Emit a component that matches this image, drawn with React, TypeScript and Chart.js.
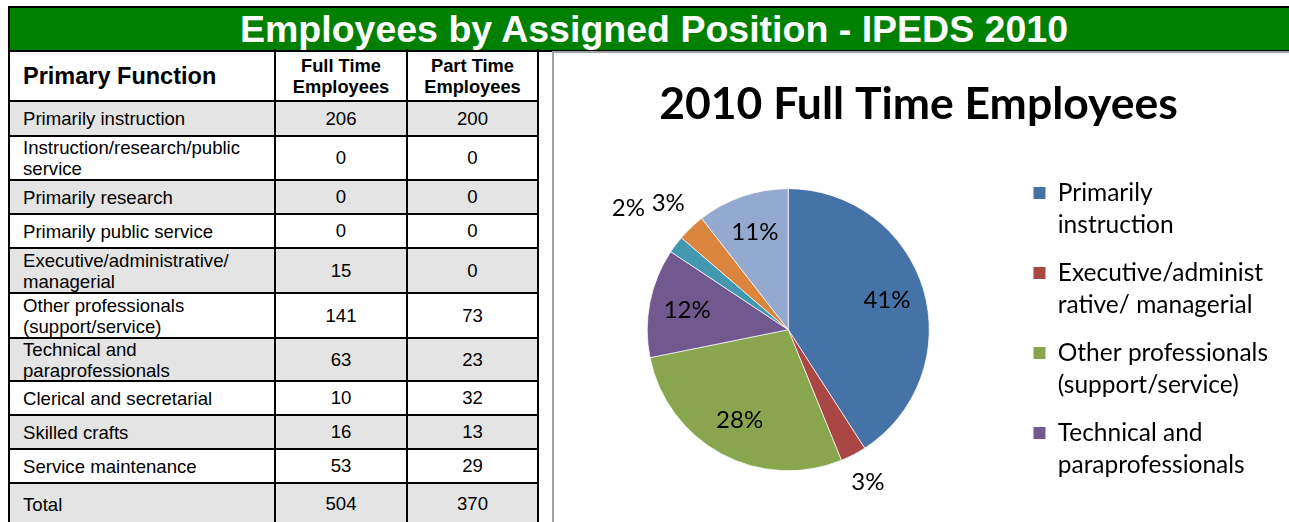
import React, { useEffect, useRef } from "react";
import { Chart, registerables } from "chart.js";

Chart.register(...registerables);

// ---------- data ----------
const bannerTitle = "Employees by Assigned Position - IPEDS 2010";
const chartTitle = "2010 Full Time Employees";
const headerLabels = [["Primary Function"], ["Full Time", "Employees"], ["Part Time", "Employees"]];

const functionLines = [
  ["Primarily instruction"],
  ["Instruction/research/public", "service"],
  ["Primarily research"],
  ["Primarily public service"],
  ["Executive/administrative/", "managerial"],
  ["Other professionals", "(support/service)"],
  ["Technical and", "paraprofessionals"],
  ["Clerical and secretarial"],
  ["Skilled crafts"],
  ["Service maintenance"],
];
const fullTime = [206, 0, 0, 0, 15, 141, 63, 10, 16, 53];
const partTime = [200, 0, 0, 0, 0, 73, 23, 32, 13, 29];
const totalLabel = "Total";

// legend text as wrapped in the chart's legend
const legendLines = [
  ["Primarily", "instruction"],
  ["Instruction/research/public service"],
  ["Primarily research"],
  ["Primarily public service"],
  ["Executive/administ", "rative/ managerial"],
  ["Other professionals", "(support/service)"],
  ["Technical and", "paraprofessionals"],
  ["Clerical and secretarial"],
  ["Skilled crafts"],
  ["Service maintenance"],
];
const sliceColors = ["#4572A7", "#AA4643", "#89A54E", "#71588F", "#4198AF", "#DB843D", "#93A9CF"];
const legendVisibleCount = 4;

// ---------- helpers ----------
function roundedPercents(values: number[]): number[] {
  const total = values.reduce((a, b) => a + b, 0);
  const raw = values.map((v) => (v * 100) / total);
  const floors = raw.map((r) => Math.floor(r));
  const rem = 100 - floors.reduce((a, b) => a + b, 0);
  const order = raw.map((r, i) => [r - floors[i], i]).sort((a, b) => b[0] - a[0]);
  for (let k = 0; k < rem; k++) floors[order[k][1]]++;
  return floors;
}

const pctLabelPlugin = {
  id: "pctLabels",
  afterDatasetsDraw(chart: any) {
    const ctx = chart.ctx;
    const meta = chart.getDatasetMeta(0);
    const values: number[] = chart.data.datasets[0].data;
    const total = values.reduce((a, b) => a + b, 0);
    const pcts = roundedPercents(values);
    ctx.save();
    ctx.font = "24px Lato";
    ctx.fillStyle = "#000";
    ctx.textAlign = "center";
    ctx.textBaseline = "middle";
    const placed: { l: number; r: number; t: number; b: number }[] = [];
    const pad = 3;
    const h = 24;
    for (let i = meta.data.length - 1; i >= 0; i--) {
      const arc = meta.data[i];
      const { x, y, startAngle, endAngle, outerRadius } = arc.getProps(
        ["x", "y", "startAngle", "endAngle", "outerRadius"],
        true
      );
      const text = pcts[i] + "%";
      const w = ctx.measureText(text).width;
      const mid = (startAngle + endAngle) / 2;
      const ux = Math.cos(mid);
      const uy = Math.sin(mid);
      const inside = values[i] / total >= 0.05;
      let d = inside
        ? outerRadius * 0.73
        : outerRadius + 13 + Math.abs(ux) * (w / 2) + Math.abs(uy) * (h / 2);
      let lx = x + ux * d;
      let ly = y + uy * d;
      const box = () => ({ l: lx - w / 2 - pad, r: lx + w / 2 + pad, t: ly - h / 2 - pad, b: ly + h / 2 + pad });
      const overlaps = () => {
        const b = box();
        return placed.some((p) => b.l < p.r && b.r > p.l && b.t < p.b && b.b > p.t);
      };
      let guard = 0;
      while (!inside && overlaps() && guard < 200) {
        d += 1;
        lx = x + ux * d;
        ly = y + uy * d;
        guard++;
      }
      placed.push(box());
      ctx.fillText(text, lx, ly);
    }
    ctx.restore();
  },
};

// ---------- layout constants ----------
const TABLE_LEFT = 8;
const COL_X = [8, 275, 407, 538];
const HEADER_TOP = 51;
const HEADER_BOTTOM = 101;
const ROW_H = [35, 44, 34, 34, 45, 45, 43, 34, 34, 34, 42];
const FONT = "'Liberation Sans', Arial, sans-serif";

export default function App() {
  const canvasRef = useRef<HTMLCanvasElement>(null);

  useEffect(() => {
    const idx = fullTime.map((_, i) => i).filter((i) => fullTime[i] > 0);
    const chart = new Chart(canvasRef.current as HTMLCanvasElement, {
      type: "pie",
      data: {
        labels: idx.map((i) => legendLines[i]) as any,
        datasets: [
          {
            data: idx.map((i) => fullTime[i]),
            backgroundColor: sliceColors,
            borderColor: "rgba(255,255,255,0.7)",
            borderWidth: 1,
            radius: 141,
          } as any,
        ],
      },
      options: {
        responsive: false,
        animation: false,
        layout: { padding: { left: 5, right: 11, top: 0, bottom: 17 } },
        plugins: {
          tooltip: { enabled: false },
          title: {
            display: true,
            text: chartTitle,
            color: "#000",
            font: { family: "Lato", size: 44.5, weight: "bold", lineHeight: 1.2 },
            padding: { top: 25, bottom: 23 },
          },
          legend: {
            position: "right",
            align: "center",
            fullSize: false,
            title: { display: true, text: "", padding: 0, font: { size: 6, lineHeight: "6px" } },
            labels: {
              color: "#000",
              font: { family: "Lato", size: 24.5, lineHeight: "32px" },
              boxWidth: 12,
              boxHeight: 12,
              padding: 16,
              filter: (item: any) => item.index < legendVisibleCount,
              generateLabels: (c: any) =>
                (Chart as any).overrides.pie.plugins.legend.labels
                  .generateLabels(c)
                  .map((it: any) => ({ ...it, lineWidth: 0 })),
            },
          },
        },
      },
      plugins: [pctLabelPlugin],
    });
    return () => chart.destroy();
  }, []);

  // build rows
  const rows: { lines: string[]; ft: string; pt: string }[] = functionLines.map((lines, i) => ({
    lines,
    ft: String(fullTime[i]),
    pt: String(partTime[i]),
  }));
  rows.push({
    lines: [totalLabel],
    ft: String(fullTime.reduce((a, b) => a + b, 0)),
    pt: String(partTime.reduce((a, b) => a + b, 0)),
  });
  const tops: number[] = [];
  let y = HEADER_BOTTOM;
  ROW_H.forEach((h) => {
    tops.push(y);
    y += h;
  });

  const hLines = [HEADER_BOTTOM, ...tops.slice(1)];

  return (
    <div
      style={{
        position: "absolute",
        left: 0,
        top: 0,
        width: 1289,
        height: 522,
        overflow: "hidden",
        background: "#fff",
        fontFamily: FONT,
        color: "#000",
      }}
    >
      {/* banner */}
      <div
        style={{
          position: "absolute",
          left: 8,
          top: 6,
          width: 1290,
          height: 46,
          boxSizing: "border-box",
          borderTop: "2px solid #000",
          borderBottom: "2px solid #000",
          borderLeft: "2px solid #000",
          background: "#008000",
          color: "#fff",
          fontWeight: "bold",
          fontSize: 37.5,
          lineHeight: "42px",
          textAlign: "center",
          whiteSpace: "nowrap",
        }}
      >
        {bannerTitle}
      </div>

      {/* table rows backgrounds */}
      {rows.map((r, i) => (
        <div
          key={"bg" + i}
          style={{
            position: "absolute",
            left: TABLE_LEFT,
            top: tops[i],
            width: COL_X[3] - TABLE_LEFT,
            height: ROW_H[i],
            background: i % 2 === 0 ? "#e4e4e4" : "#fff",
          }}
        />
      ))}

      {/* header cells */}
      <div
        style={{
          position: "absolute",
          left: 23,
          top: HEADER_TOP,
          height: HEADER_BOTTOM - HEADER_TOP,
          display: "flex",
          alignItems: "center",
          fontWeight: "bold",
          fontSize: 23.5,
        }}
      >
        {headerLabels[0][0]}
      </div>
      {[1, 2].map((c) => (
        <div
          key={"h" + c}
          style={{
            position: "absolute",
            left: COL_X[c],
            top: HEADER_TOP,
            width: COL_X[c + 1] - COL_X[c],
            height: HEADER_BOTTOM - HEADER_TOP,
            display: "flex",
            flexDirection: "column",
            justifyContent: "center",
            alignItems: "center",
            fontWeight: "bold",
            fontSize: 18.3,
            lineHeight: "21px",
          }}
        >
          {headerLabels[c].map((l, k) => (
            <div key={k}>{l}</div>
          ))}
        </div>
      ))}

      {/* body cells */}
      {rows.map((r, i) => (
        <React.Fragment key={"r" + i}>
          <div
            style={{
              position: "absolute",
              left: 23,
              top: tops[i],
              height: ROW_H[i],
              display: "flex",
              flexDirection: "column",
              justifyContent: "center",
              fontSize: 18.6,
              lineHeight: "21px",
              whiteSpace: "nowrap",
            }}
          >
            {r.lines.map((l, k) => (
              <div key={k}>{l}</div>
            ))}
          </div>
          {[r.ft, r.pt].map((v, k) => (
            <div
              key={k}
              style={{
                position: "absolute",
                left: COL_X[k + 1],
                top: tops[i],
                width: COL_X[k + 2] - COL_X[k + 1],
                height: ROW_H[i],
                display: "flex",
                alignItems: "center",
                justifyContent: "center",
                fontSize: 18.6,
              }}
            >
              {v}
            </div>
          ))}
        </React.Fragment>
      ))}

      {/* table grid lines */}
      {hLines.map((ly, i) => (
        <div
          key={"hl" + i}
          style={{
            position: "absolute",
            left: TABLE_LEFT,
            top: ly - 1,
            width: COL_X[3] - TABLE_LEFT + 1,
            height: 2,
            background: "#000",
          }}
        />
      ))}
      {COL_X.map((lx, i) => (
        <div
          key={"vl" + i}
          style={{
            position: "absolute",
            left: i === 0 ? lx : lx - 1,
            top: 49,
            width: 2,
            height: 480,
            background: "#000",
          }}
        />
      ))}

      {/* chart panel */}
      <div
        style={{
          position: "absolute",
          left: 552,
          top: 51,
          width: 745,
          height: 480,
          boxSizing: "border-box",
          borderLeft: "2px solid #a0a0a0",
          borderTop: "2px solid #a0a0a0",
          background: "#fff",
        }}
      />
      <canvas
        ref={canvasRef}
        width={735}
        height={469}
        style={{ position: "absolute", left: 554, top: 53, width: 735, height: 469 }}
      />
    </div>
  );
}
